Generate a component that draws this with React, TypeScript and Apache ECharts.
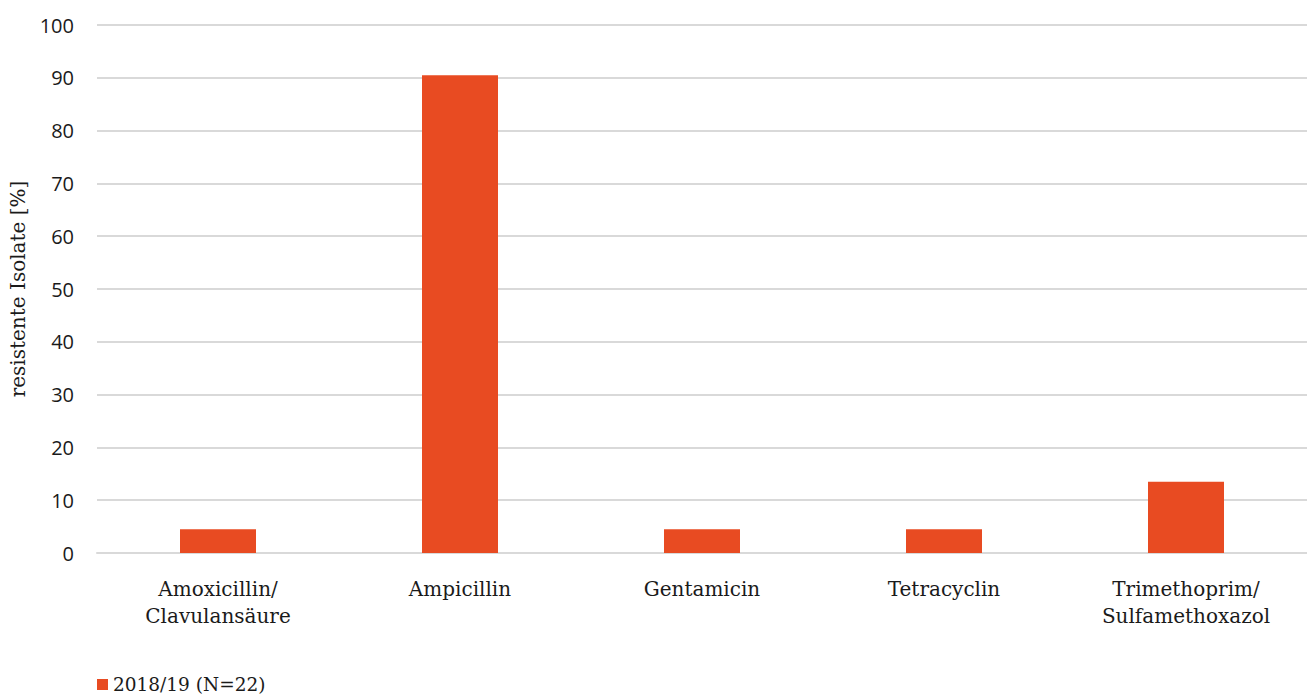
import React, { useEffect, useRef } from "react";
import * as echarts from "echarts";

const categories = ["Amoxicillin/\nClavulansäure", "Ampicillin", "Gentamicin", "Tetracyclin", "Trimethoprim/\nSulfamethoxazol"];
const seriesName = "2018/19 (N=22)";
const values = [4.5, 90.5, 4.5, 4.5, 13.5];
const yAxisName = "resistente Isolate [%]";

const SERIF = "'DejaVu Serif', serif";
const SANS = "'Open Sans', 'Noto Sans', sans-serif";

export default function App() {
  const ref = useRef<HTMLDivElement>(null);
  useEffect(() => {
    if (!ref.current) return;
    const chart = echarts.init(ref.current, null, { renderer: "svg" });
    chart.setOption({
      animation: false,
      grid: { left: 97, right: 0, top: 25, bottom: 146, containLabel: false },
      legend: {
        left: 92,
        bottom: 0,
        itemWidth: 11,
        itemHeight: 11,
        itemGap: 4,
        icon: "rect",
        textStyle: { fontFamily: SERIF, fontSize: 18.5, color: "#1a1a1a" },
        data: [seriesName],
      },
      xAxis: {
        type: "category",
        data: categories,
        axisLine: { lineStyle: { color: "#d9d9d9", width: 2 } },
        axisTick: { show: false },
        axisLabel: { fontFamily: SERIF, fontSize: 20, color: "#1a1a1a", margin: 22, lineHeight: 27 },
      },
      yAxis: {
        type: "value",
        min: 0,
        max: 100,
        interval: 10,
        name: yAxisName,
        nameLocation: "middle",
        nameGap: 69,
        nameTextStyle: { fontFamily: SERIF, fontSize: 20, color: "#1a1a1a" },
        axisLine: { show: false },
        axisTick: { show: false },
        splitLine: { lineStyle: { color: "#d9d9d9", width: 2 } },
        axisLabel: { fontFamily: SANS, fontSize: 20, color: "#1a1a1a", margin: 23 },
      },
      series: [
        {
          name: seriesName,
          type: "bar",
          data: values,
          barWidth: 76,
          itemStyle: { color: "#E84B22" },
        },
      ],
    });
    return () => chart.dispose();
  }, []);
  return <div ref={ref} style={{ width: 1307, height: 699, position: "absolute", left: 0, top: 0 }} />;
}
